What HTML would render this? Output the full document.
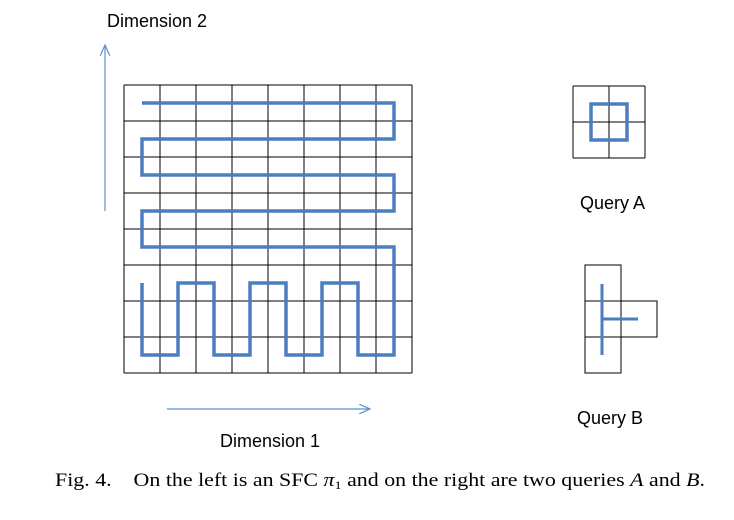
<!DOCTYPE html>
<html><head><meta charset="utf-8"><style>
body{margin:0;background:#fff;width:734px;height:515px;overflow:hidden}
svg text{font-family:"Liberation Sans",sans-serif}
</style></head><body>
<svg id="c" width="734" height="515">
<defs><marker id="ah" markerWidth="10" markerHeight="8" refX="9" refY="4" orient="auto"><path d="M0,0 L9,4 L0,8" fill="none" stroke="#5b8fd0" stroke-width="1"/></marker></defs>
<text x="107" y="27" font-size="18">Dimension 2</text>
<line x1="105" y1="211" x2="105" y2="45" stroke="#5b8fd0" stroke-width="1.2" marker-end="url(#ah)"/>
<line x1="167" y1="409" x2="370" y2="409" stroke="#5b8fd0" stroke-width="1.2" marker-end="url(#ah)"/>
<text x="220" y="447" font-size="18">Dimension 1</text>
<text x="580" y="209" font-size="18">Query A</text>
<text x="577" y="424" font-size="18">Query B</text>
<text x="55" y="486" font-size="18.5" textLength="650" lengthAdjust="spacingAndGlyphs" style="font-family:'Liberation Serif',serif">Fig. 4.&#160;&#160;&#160; On the left is an SFC <tspan font-style="italic">π</tspan><tspan font-size="12" dy="3">1</tspan><tspan dy="-3"> and on the right are two queries </tspan><tspan font-style="italic">A</tspan> and <tspan font-style="italic">B</tspan>.</text>
<g id="grid"></g>
<g id="qa"></g>
<g id="qb"></g>
</svg>
<script>
// SFC path as cell (col,row) sequence
const pathCols=[0,7,7,0,0,7,7,0,0,7,7,6,6,5,5,4,4,3,3,2,2,1,1,0,0];
const pathRows=[0,0,1,1,2,2,3,3,4,4,7,7,5,5,7,7,5,5,7,7,5,5,7,7,5];
const nCells=8;
const NS="http://www.w3.org/2000/svg";
const X0=124,Y0=85,CS=36;
const sx=c=>X0+CS*c+CS/2, sy=r=>Y0+CS*r+CS/2;
function mk(t,a,p){const e=document.createElementNS(NS,t);for(const k in a)e.setAttribute(k,a[k]);p.appendChild(e);return e;}
const g=document.getElementById('grid');
for(let i=0;i<=nCells;i++){
 const v=mk('line',{x1:X0+CS*i,y1:Y0,x2:X0+CS*i,y2:Y0+CS*nCells,stroke:'#000','stroke-width':1},g);
 
 
 const h=mk('line',{x1:X0,y1:Y0+CS*i,x2:X0+CS*nCells,y2:Y0+CS*i,stroke:'#000','stroke-width':1},g);
 
 
}
const pts=pathCols.map((c,i)=>sx(c)+','+sy(pathRows[i])).join(' ');
const pl=mk('polyline',{points:pts,fill:'none',stroke:'#4a7ebf','stroke-width':3.5},g);


// Query A
const qa=document.getElementById('qa');
const ax=573,ay=86;
for(let i=0;i<=2;i++){
 mk('line',{x1:ax+CS*i,y1:ay,x2:ax+CS*i,y2:ay+72,stroke:'#000'},qa);
 mk('line',{x1:ax,y1:ay+CS*i,x2:ax+72,y2:ay+CS*i,stroke:'#000'},qa);
}
const qar=mk('rect',{x:ax+18,y:ay+18,width:36,height:36,fill:'none',stroke:'#4a7ebf','stroke-width':3.5},qa);


// Query B
const qb=document.getElementById('qb');
const bx=585,by=265;
for(let r=0;r<3;r++)mk('rect',{x:bx,y:by+CS*r,width:CS,height:CS,fill:'none',stroke:'#000'},qb);
mk('rect',{x:bx+CS,y:by+CS,width:CS,height:CS,fill:'none',stroke:'#000'},qb);
const qbv=mk('line',{x1:bx+17,y1:by+19,x2:bx+17,y2:by+90,stroke:'#4a7ebf','stroke-width':3},qb);


const qbh=mk('line',{x1:bx+17,y1:by+54,x2:bx+53,y2:by+54,stroke:'#4a7ebf','stroke-width':3},qb);


</script>
</body></html>
